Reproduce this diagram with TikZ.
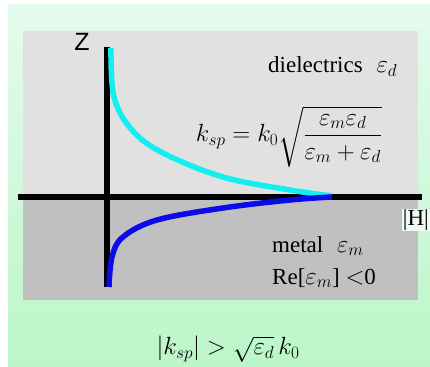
\documentclass[tikz,border=0pt]{standalone}
\usepackage{amsmath,amssymb}
\usepackage{fontspec}
\setmainfont{Liberation Serif}
\newfontfamily\zfont{Liberation Sans}
\usepackage{tikz}
\usetikzlibrary{positioning}

\definecolor{mintTop}{RGB}{228,251,238}
\definecolor{mintBot}{RGB}{188,246,200}
\definecolor{panelTop}{RGB}{225,225,225}
\definecolor{panelBot}{RGB}{192,192,192}
\definecolor{profUp}{RGB}{20,238,238}
\definecolor{profDown}{RGB}{10,10,235}

\begin{document}
\begin{tikzpicture}[x=1pt, y=-1pt,
	   lbl/.style={inner sep=0pt, font=\fontsize{23}{27}\selectfont},
	   eq/.style={inner sep=0pt, font=\fontsize{25}{30}\selectfont},
	   axis/.style={line width=5.5pt, black},
	   prof/.style={line width=5.5pt, line join=round}]
	  \useasboundingbox (0,0) rectangle (430,366);
	  \fill[white] (0,0) rectangle (430,366);
	  \shade[top color=mintTop, bottom color=mintBot] (8,5) rectangle (430,366);
	  \fill[panelTop] (23,31) rectangle (418,197);
	  \fill[panelBot] (23,197) rectangle (418,300);
	  % interface and z axis
	  \draw[axis] (18,197) -- (422,197);
	  \draw[axis] (107,47) -- (107,287);
	  % field profiles
	  \draw[prof, profUp] plot[smooth, tension=0.6] coordinates {(111,48) (114,97) (132,130) (163,153) (223,177) (290,190) (332,196)};
	  \draw[prof, profDown] plot[smooth, tension=0.6] coordinates {(109,287) (112,257) (123,237) (157,220) (223,208) (290,200) (332,197)};
	  \node[lbl, font=\zfont\fontsize{25}{28}\selectfont] (zlab) at (82,42) {Z};
	  \node[lbl, anchor=base west] (diel) at (268,73) {dielectrics\hspace{0.6em}$\varepsilon_d$};
	  \node[eq] (ksp) at (289,137) {$k_{sp}=k_0\sqrt{\dfrac{\varepsilon_m\varepsilon_d}{\varepsilon_m+\varepsilon_d}}$};
	  \node[lbl, anchor=base west] (metal) at (272,252) {metal\hspace{0.6em}$\varepsilon_m$};
	  \node[lbl, below=12pt of metal.south west, anchor=north west] (remet) {Re[$\varepsilon_m$] $<$0};
	  \node[lbl, anchor=east, fill=mintTop!70!white, inner sep=1pt] (hlab) at (430,220) {\textbar H\textbar};
	  \node[eq] (cond) at (228,349) {$\lvert k_{sp}\rvert>\sqrt{\varepsilon_d}\,k_0$};
	\end{tikzpicture}
\end{document}
